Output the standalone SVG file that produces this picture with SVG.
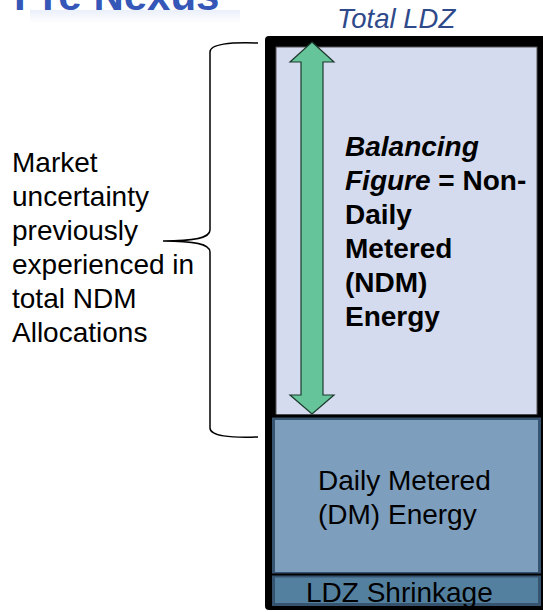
<svg xmlns="http://www.w3.org/2000/svg" width="543" height="612" viewBox="0 0 543 612">
<style>
text{font-family:"Liberation Sans",Arial,sans-serif;font-size:28px;fill:#000}
.b{font-weight:bold}
.edge{stroke:#36536f;stroke-width:3}
</style>
<defs>
<linearGradient id="glow" x1="0" y1="0" x2="0" y2="1">
<stop offset="0" stop-color="#eaeff9"/>
<stop offset="1" stop-color="#ffffff"/>
</linearGradient>
</defs>
<rect width="543" height="612" fill="#fff"/>
<g id="title">
<rect x="30" y="10" width="210" height="13" fill="url(#glow)"/>
<text x="14" y="10" class="b" style="font-size:42px;fill:#3557b7">Pre Nexus</text>
</g>
<g id="total-ldz-label"><text x="337" y="28" style="font-style:italic;font-size:27.5px;fill:#2f4a8a">Total LDZ</text></g>
<g id="column">
<rect x="265" y="36" width="290" height="574" rx="4" fill="#000"/>
</g>
<g id="ndm">
<rect x="276" y="47" width="261" height="368" fill="#d5dbee" stroke="#555" stroke-width="1"/>
<text class="b"><tspan x="345" y="156" font-style="italic">Balancing</tspan><tspan x="345" y="190" font-style="italic">Figure</tspan><tspan> = Non-</tspan><tspan x="345" y="224">Daily</tspan><tspan x="345" y="258">Metered</tspan><tspan x="345" y="292">(NDM)</tspan><tspan x="345" y="326">Energy</tspan></text>
</g>
<g id="dm">
<rect x="273.5" y="418.5" width="266" height="155" fill="#7d9ebd" class="edge"/>
<text x="318" y="490">Daily Metered</text>
<text x="318" y="524">(DM) Energy</text>
</g>
<g id="shrinkage">
<rect x="273.5" y="576" width="266" height="28.5" fill="#54809f" class="edge"/>
<text x="306" y="602">LDZ Shrinkage</text>
</g>
<g id="connectors">
<line x1="272" y1="416" x2="541" y2="416" stroke="#000" stroke-width="3"/>
<line x1="272" y1="574.5" x2="541" y2="574.5" stroke="#000" stroke-width="2"/>
<polygon points="312,42 334,62 323,62 323,395 334,395 312,414 290,395 301,395 301,62 290,62" fill="#66c49a" stroke="#1c3a2c" stroke-width="1.2"/>
<path d="M258,43 C230,42 210,44 210,52 L210,230 C210,238 195,241 163,241 C195,241 210,244 210,252 L210,428 C210,436 230,438 258,437" fill="none" stroke="#000" stroke-width="1.5"/>
</g>
<g id="uncertainty-label">
<text><tspan x="12" y="172">Market</tspan><tspan x="12" y="206">uncertainty</tspan><tspan x="12" y="240">previously</tspan><tspan x="12" y="274">experienced in</tspan><tspan x="12" y="308">total NDM</tspan><tspan x="12" y="342">Allocations</tspan></text>
</g>
</svg>
